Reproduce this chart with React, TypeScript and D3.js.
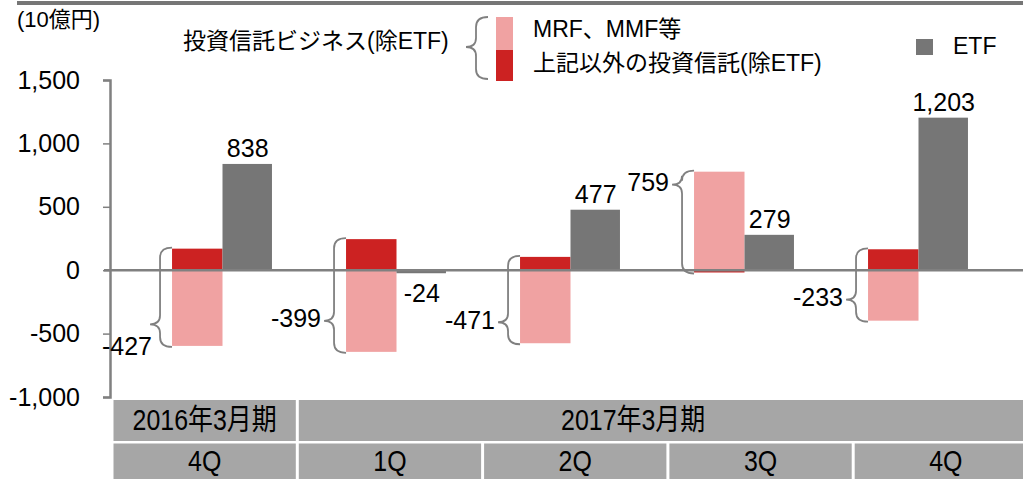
import React, { useEffect, useRef } from 'react';
import * as d3 from 'd3';

const periodKeys = ['2016-4Q', '2017-1Q', '2017-2Q', '2017-3Q', '2017-4Q'];
const quarterLabels = ['4Q', '1Q', '2Q', '3Q', '4Q'];
const fiscalYears = ['2016年3月期', '2017年3月期'];
const fiscalYearSpans = [1, 4];

// 10億円
const mrfValues = [-597, -644, -576, 777, -398];
const otherValues = [170, 245, 105, -18, 165];
const etfValues = [838, -24, 477, 279, 1203];
const yTicks = [-1000, -500, 0, 500, 1000, 1500];

const W = 1023;
const H = 479;
const FONT = '"Liberation Sans", Arial, "Noto Sans CJK JP", sans-serif';
const PINK = '#f0a2a2';
const RED = '#cc2222';
const GREY = '#767676';
const LINE = '#808080';
const NUM_SIZE = 25;

// plain hyphen for negatives, like the original
const fmt = d3
  .formatLocale({ decimal: '.', thousands: ',', grouping: [3], currency: ['', ''], minus: '-' })
  .format(',');

function bracePath(xv: number, top: number, bot: number, mid: number) {
  const r = 12;
  const p = xv - 10;
  return (
    `M${xv + r},${top} Q${xv},${top} ${xv},${top + 10} ` +
    `L${xv},${mid - 9} Q${xv},${mid} ${p},${mid} ` +
    `Q${xv},${mid} ${xv},${mid + 9} ` +
    `L${xv},${bot - 10} Q${xv},${bot} ${xv + r},${bot}`
  );
}

const App = () => {
  const axisRef = useRef<SVGGElement>(null);

  const y = d3.scaleLinear().domain([-1000, 1500]).range([397, 80]);
  const x = d3
    .scaleBand()
    .domain(periodKeys)
    .range([135.5, 1005.5])
    .paddingInner(0.42)
    .paddingOuter(0.21);
  const sub = d3.scaleBand().domain(['stack', 'etf']).range([0, x.bandwidth()]);
  const boxes = d3.scaleBand().domain(periodKeys).range([112, 1038.5]);

  const rows = periodKeys.map((k, i) => ({ key: k, mrf: mrfValues[i], other: otherValues[i] }));
  const series = d3
    .stack<any>()
    .keys(['other', 'mrf'])
    .offset(d3.stackOffsetDiverging)(rows);

  useEffect(() => {
    const g = d3.select(axisRef.current);
    g.selectAll('*').remove();
    g.call(
      d3
        .axisLeft(y)
        .tickValues(yTicks)
        .tickSize(7)
        .tickPadding(23)
        .tickFormat((d) => fmt(d as number))
    );
    g.select('.domain').attr('stroke', LINE).attr('stroke-width', 2.5);
    g.selectAll('.tick line').attr('stroke', LINE).attr('stroke-width', 1.5);
    g.selectAll('.tick text')
      .attr('fill', '#000')
      .style('font-size', NUM_SIZE + 'px')
      .style('font-family', FONT);
  }, []);

  const colorOf: Record<string, string> = { other: RED, mrf: PINK };

  // year header boxes
  let cursor = 0;
  const yearBoxes = fiscalYears.map((label, i) => {
    const first = periodKeys[cursor];
    const last = periodKeys[cursor + fiscalYearSpans[i] - 1];
    cursor += fiscalYearSpans[i];
    const x0 = boxes(first)!;
    const x1 = boxes(last)! + boxes.step();
    const tx = i === 0 ? (x0 + x1) / 2 : (x0 + x(last)! + x.bandwidth()) / 2;
    return { label, x0, x1, tx };
  });

  // header text is drawn a little tall and narrow
  const headerText = (cx: number, cy: number, label: string) => (
    <text
      transform={`translate(${cx},${cy}) scale(0.96,1.12)`}
      fontSize={26}
      textAnchor="middle"
      dominantBaseline="middle"
    >
      {label}
    </text>
  );

  return (
    <svg
      width={W}
      height={H}
      style={{ position: 'absolute', left: 0, top: 0, background: '#fff' }}
      fontFamily={FONT}
    >
      <rect x={17} y={1} width={W - 17} height={4} fill={GREY} />

      <text x={17} y={21} fontSize={22} dominantBaseline="middle">
        (10億円)
      </text>

      {/* legend */}
      <text x={183} y={43} fontSize={23} dominantBaseline="middle">
        投資信託ビジネス(除ETF)
      </text>
      <path d={bracePath(476, 17, 79, 47)} fill="none" stroke={LINE} strokeWidth={1.8} />
      <rect x={496} y={17} width={17} height={33} fill={PINK} />
      <rect x={496} y={50} width={17} height={31} fill={RED} />
      <text x={533} y={31} fontSize={23} dominantBaseline="middle">
        MRF、MMF等
      </text>
      <text x={533} y={65} fontSize={23} dominantBaseline="middle">
        上記以外の投資信託(除ETF)
      </text>
      <rect x={916} y={39} width={17} height={16} fill={GREY} />
      <text x={953} y={48} fontSize={23} dominantBaseline="middle">
        ETF
      </text>

      <g ref={axisRef} transform="translate(110,0)" />

      {/* stacked bars */}
      {series.map((s) =>
        s.map((d, i) => (
          <rect
            key={s.key + i}
            x={x(periodKeys[i])! + sub('stack')!}
            y={y(Math.max(d[0], d[1]))}
            width={sub.bandwidth()}
            height={Math.abs(y(d[0]) - y(d[1]))}
            fill={colorOf[s.key]}
          />
        ))
      )}

      {/* ETF bars */}
      {etfValues.map((v, i) => (
        <rect
          key={'etf' + i}
          x={x(periodKeys[i])! + sub('etf')!}
          y={y(Math.max(0, v))}
          width={sub.bandwidth() - 1}
          height={Math.abs(y(v) - y(0))}
          fill={GREY}
        />
      ))}

      <line x1={104} x2={W} y1={y(0)} y2={y(0)} stroke={LINE} strokeWidth={2.5} />

      {/* ETF labels */}
      {etfValues.map((v, i) => (
        <text
          key={'etfl' + i}
          x={x(periodKeys[i])! + sub('etf')! + sub.bandwidth() / 2}
          y={v >= 0 ? y(v) - 7 : y(v) + 29}
          fontSize={NUM_SIZE}
          textAnchor="middle"
        >
          {fmt(v)}
        </text>
      ))}

      {/* braces and totals for 投資信託ビジネス */}
      {rows.map((r, i) => {
        const pos = Math.max(0, r.mrf) + Math.max(0, r.other);
        const neg = Math.min(0, r.mrf) + Math.min(0, r.other);
        const total = r.mrf + r.other;
        const top = y(pos) - 1;
        const bot = y(neg) + 1;
        const mid = Math.max(top + 14, Math.min(bot - 22, y(total)));
        const xv = x(periodKeys[i])! + sub('stack')! - 12;
        const lx = i === 0 ? xv - 8 : xv - 13;
        const ly = i === 0 ? mid + 24 : mid;
        return (
          <g key={'br' + i}>
            <path d={bracePath(xv, top, bot, mid)} fill="none" stroke={LINE} strokeWidth={1.8} />
            <text x={lx} y={ly} fontSize={NUM_SIZE} textAnchor="end" dominantBaseline="middle">
              {fmt(total)}
            </text>
          </g>
        );
      })}

      {/* category header */}
      {yearBoxes.map((b) => (
        <g key={b.label}>
          <rect x={b.x0 + 1.5} y={400} width={b.x1 - b.x0 - 3} height={41} fill="#a6a6a6" />
          {headerText(b.tx, 422, b.label)}
        </g>
      ))}
      {periodKeys.map((k, i) => (
        <g key={'q' + k}>
          <rect x={boxes(k)! + 1.5} y={443.5} width={boxes.step() - 3} height={40} fill="#a6a6a6" />
          {headerText(boxes(k)! + boxes.step() / 2, 463, quarterLabels[i])}
        </g>
      ))}
    </svg>
  );
};

export default App;
